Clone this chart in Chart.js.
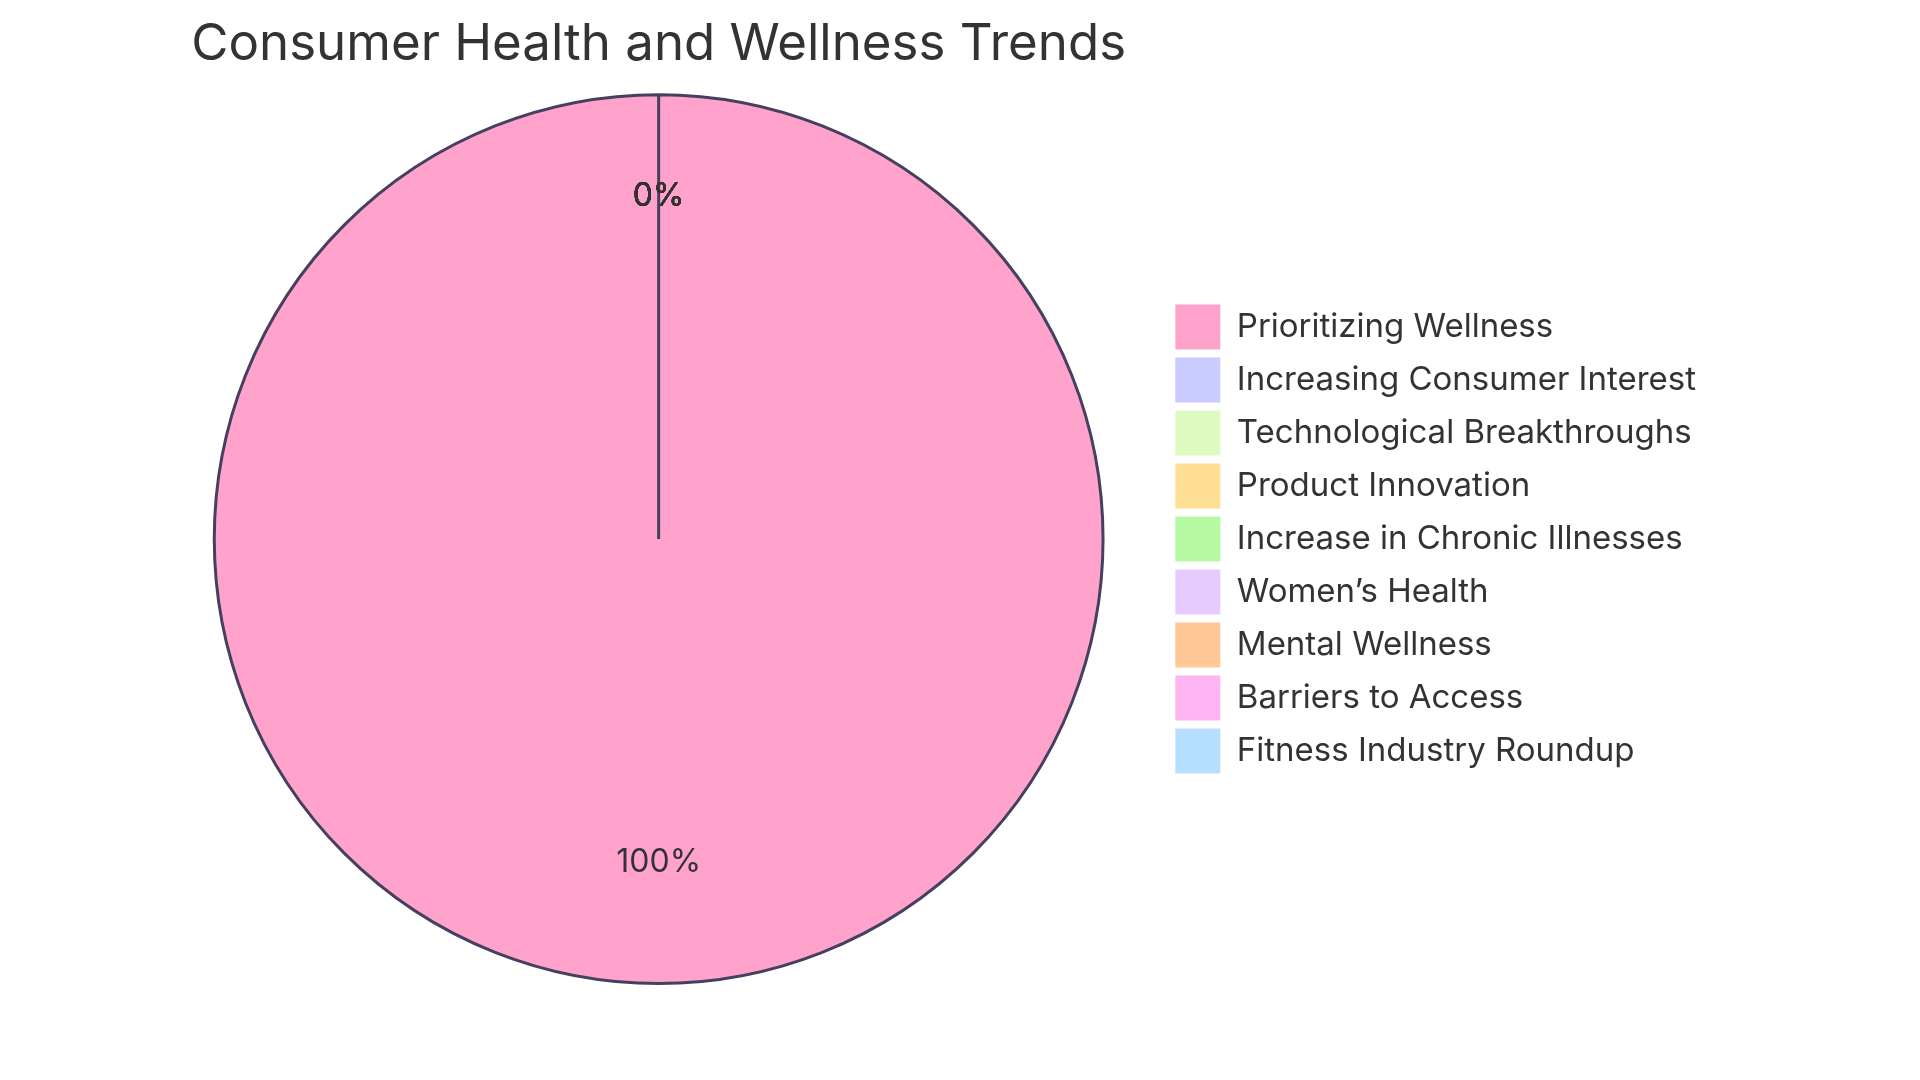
<!DOCTYPE html>
<html>
<head>
<meta charset="utf-8">
<script src="https://cdn.jsdelivr.net/npm/chart.js@4"></script>
<style>
  html, body { margin: 0; padding: 0; background: #fff; }
  #wrap { width: 1920px; height: 1080px; }
</style>
</head>
<body>
<div id="wrap"><canvas id="pieChart" width="1920" height="1080"></canvas></div>
<script>
var labels = ["Prioritizing Wellness", "Increasing Consumer Interest", "Technological Breakthroughs",
    "Product Innovation", "Increase in Chronic Illnesses", "Women\u2019s Health", "Mental Wellness",
    "Barriers to Access", "Fitness Industry Roundup"];
var values = [100, 0, 0, 0, 0, 0, 0, 0, 0];
var colors = ["#FFA3CC", "#CACBFF", "#DDFABF", "#FFDF94", "#B5F9A2", "#E7CBFF", "#FFC896", "#FFB5F2", "#B5DFFF"];

var FONT = "Inter, 'Open Sans', sans-serif";

// percent labels inside the slices
var sliceLabels = {
    id: 'sliceLabels',
    afterDatasetsDraw: function (chart) {
        var ctx = chart.ctx;
        var meta = chart.getDatasetMeta(0);
        var total = values.reduce(function (a, b) { return a + b; }, 0);
        ctx.save();
        ctx.font = "32px " + FONT;
        ctx.fillStyle = "#333333";
        ctx.textAlign = "center";
        ctx.textBaseline = "alphabetic";
        meta.data.forEach(function (arc, i) {
            var p = arc.getProps(['x', 'y', 'startAngle', 'endAngle', 'outerRadius'], true);
            var mid = (p.startAngle + p.endAngle) / 2;
            var r = p.outerRadius * 0.75;
            var pct = Math.round(values[i] / total * 100) + "%";
            ctx.fillText(pct, p.x + Math.cos(mid) * r, p.y + Math.sin(mid) * r);
        });
        ctx.restore();
    }
};

var pieData = {
    labels: labels,
    datasets: [{
        data: values,
        backgroundColor: colors,
        borderColor: "#45405f",
        borderWidth: 3
    }]
};

var pieOptions = {
    responsive: false,
    animation: false,
    layout: { padding: { left: 150, right: 214, top: 0, bottom: 95 } },
    plugins: {
        title: {
            display: true,
            text: "Consumer Health and Wellness Trends",
            fullSize: false,
            color: "#333333",
            font: { family: FONT, size: 51, weight: 'normal', lineHeight: 1.2 },
            padding: { top: 14, bottom: 18 }
        },
        legend: {
            position: 'right',
            fullSize: false,
            labels: {
                color: "#333333",
                font: { family: FONT, size: 33 },
                boxWidth: 45,
                boxHeight: 45,
                padding: 8,
                generateLabels: function (chart) {
                    var items = Chart.overrides.pie.plugins.legend.labels.generateLabels(chart);
                    items.forEach(function (it) { it.lineWidth = 0; it.strokeStyle = it.fillStyle; });
                    return items;
                }
            }
        },
        tooltip: { enabled: false }
    }
};

var ctx = document.getElementById("pieChart").getContext("2d");
new Chart(ctx, {type: 'pie', data: pieData, options: pieOptions, plugins: [sliceLabels]});
</script>
</body>
</html>
